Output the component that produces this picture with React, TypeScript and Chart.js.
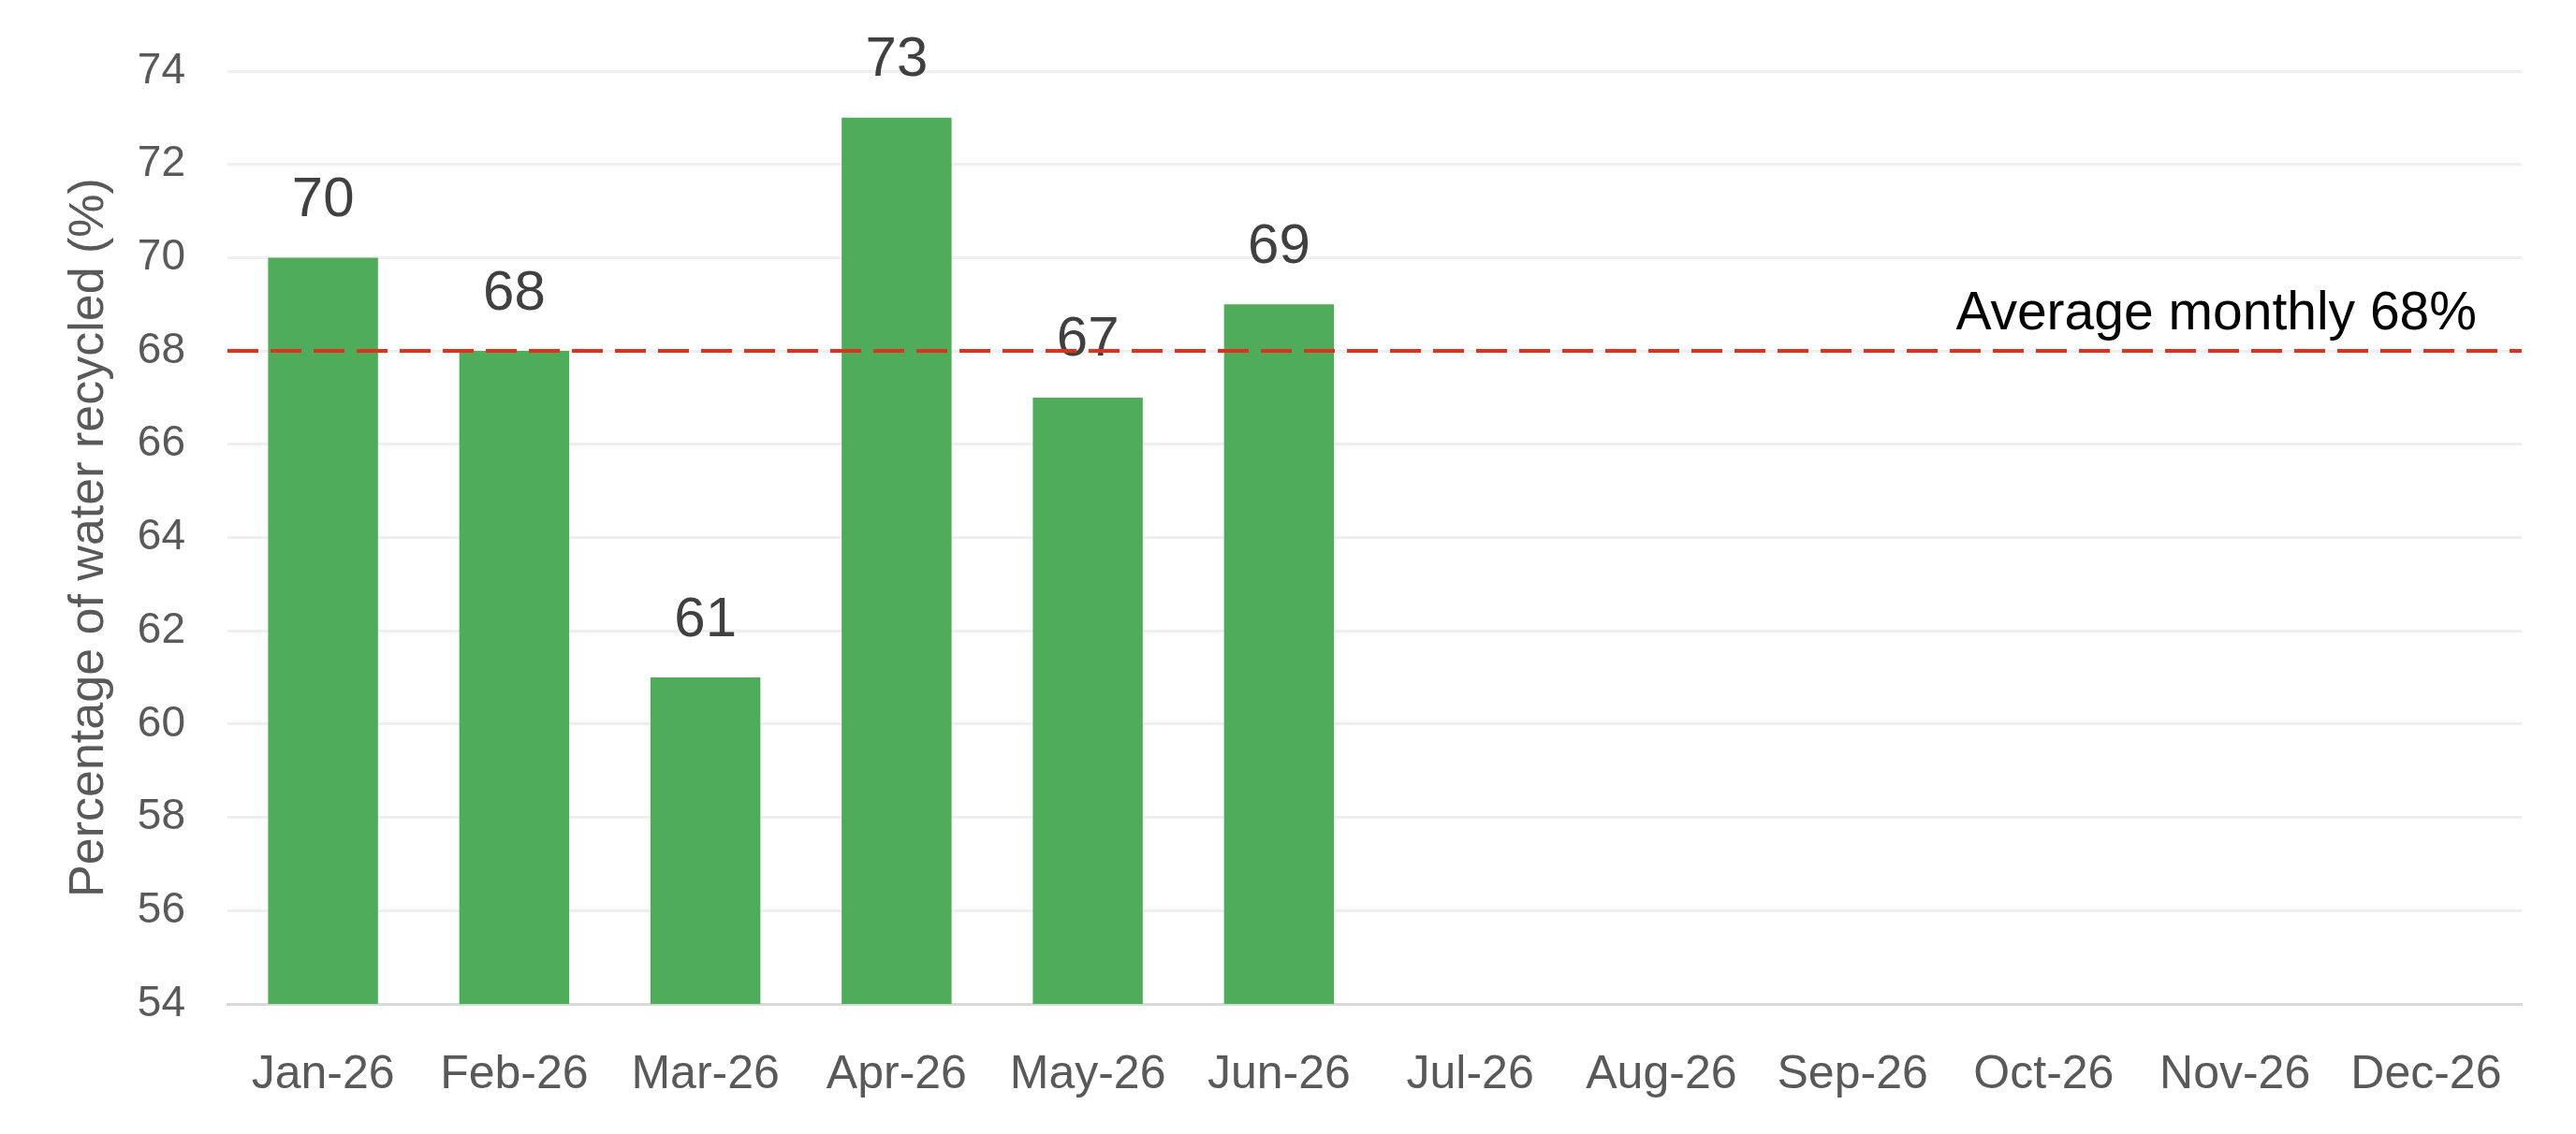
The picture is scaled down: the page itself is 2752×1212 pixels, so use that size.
import React, { useEffect, useRef } from "react";
import Chart from "chart.js/auto";

// Months on the x axis
const months = [
  "Jan-26",
  "Feb-26",
  "Mar-26",
  "Apr-26",
  "May-26",
  "Jun-26",
  "Jul-26",
  "Aug-26",
  "Sep-26",
  "Oct-26",
  "Nov-26",
  "Dec-26"
];

// Percentage of water recycled (only first half of the year reported)
const recycled = [70, 68, 61, 73, 67, 69];

const averageValue = 68;
const averageLabel = "Average monthly 68%";

const yMin = 54;
const yMax = 74;
const yStep = 2;

const FONT = "'Liberation Sans', Arial, sans-serif";

const App: React.FC = () => {
  const chartRef = useRef<HTMLCanvasElement>(null);
  const chartInstance = useRef<Chart | null>(null);

  useEffect(() => {
    document.body.style.margin = "0";
    if (!chartRef.current) return;
    if (chartInstance.current) chartInstance.current.destroy();

    // value labels above each bar
    const valueLabels = {
      id: "valueLabels",
      afterDatasetsDraw(chart: any) {
        const ctx = chart.ctx;
        const meta = chart.getDatasetMeta(0);
        ctx.save();
        ctx.fillStyle = "#404040";
        ctx.font = `60px ${FONT}`;
        ctx.textAlign = "center";
        ctx.textBaseline = "middle";
        meta.data.forEach((bar: any, i: number) => {
          const v = recycled[i];
          if (v == null) return;
          ctx.fillText(String(v), bar.x, bar.y - 61);
        });
        ctx.restore();
      }
    };

    // dashed average line with its caption
    const averageLine = {
      id: "averageLine",
      afterDatasetsDraw(chart: any) {
        const { ctx, chartArea } = chart;
        const y = chart.scales.y.getPixelForValue(averageValue);
        ctx.save();
        ctx.strokeStyle = "#E0301E";
        ctx.lineWidth = 4;
        ctx.setLineDash([33, 13]);
        ctx.beginPath();
        ctx.moveTo(chartArea.left, y);
        ctx.lineTo(chartArea.right, y);
        ctx.stroke();
        ctx.setLineDash([]);
        ctx.fillStyle = "#000000";
        ctx.font = `57px ${FONT}`;
        ctx.textAlign = "right";
        ctx.textBaseline = "alphabetic";
        ctx.fillText(averageLabel, chartArea.right - 48, y - 23);
        ctx.restore();
      }
    };

    chartInstance.current = new Chart(chartRef.current, {
      type: "bar",
      data: {
        labels: months,
        datasets: [
          {
            label: "Percentage of water recycled",
            data: recycled,
            backgroundColor: "#4EAC5B",
            borderWidth: 0,
            barPercentage: 0.575,
            categoryPercentage: 1
          }
        ]
      },
      plugins: [valueLabels, averageLine],
      options: {
        animation: false,
        responsive: true,
        maintainAspectRatio: false,
        devicePixelRatio: 1,
        layout: {
          padding: { top: 76, right: 58, bottom: 0, left: 0 }
        },
        plugins: {
          legend: { display: false },
          tooltip: { enabled: false }
        },
        scales: {
          x: {
            grid: { display: false },
            border: { display: true, color: "#d9d9d9", width: 3 },
            ticks: {
              color: "#595959",
              font: { family: FONT, size: 50 },
              padding: 38,
              maxRotation: 0,
              autoSkip: false
            },
            afterFit: (scale: any) => {
              scale.height = 139;
            }
          },
          y: {
            min: yMin,
            max: yMax,
            grid: { color: "#efefef", lineWidth: 3, drawTicks: false },
            border: { display: false },
            ticks: {
              stepSize: yStep,
              color: "#595959",
              font: { family: FONT, size: 46 },
              padding: 45
            },
            title: {
              display: true,
              text: "Percentage of water recycled (%)",
              color: "#595959",
              font: { family: FONT, size: 52 },
              padding: { top: 64, bottom: 0 }
            },
            afterFit: (scale: any) => {
              scale.width = 243;
            }
          }
        }
      }
    });

    return () => {
      if (chartInstance.current) {
        chartInstance.current.destroy();
        chartInstance.current = null;
      }
    };
  }, []);

  return (
    <div style={{ width: "2752px", height: "1212px", position: "relative" }}>
      <canvas ref={chartRef}></canvas>
    </div>
  );
};

export default App;
